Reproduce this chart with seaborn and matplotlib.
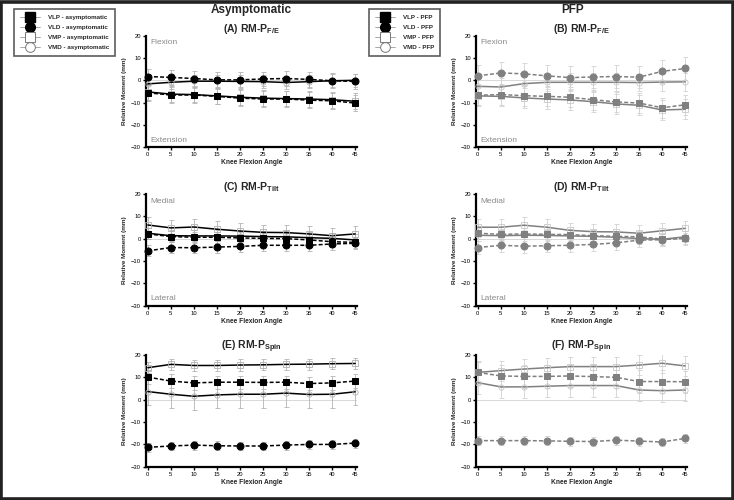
import matplotlib
matplotlib.use("Agg")
import matplotlib.pyplot as plt
import seaborn as sns
import pandas as pd
from matplotlib.lines import Line2D
from matplotlib.patches import Rectangle

# ---------------- data ----------------
angles = [0, 5, 10, 15, 20, 25, 30, 35, 40, 45]
series_names = ["VLP", "VLD", "VMP", "VMD"]
yticks = [-30, -20, -10, 0, 10, 20]

# (A) Asymptomatic RM-P F/E
A_VLP = [-5.6, -6.6, -6.6, -7.2, -8.0, -8.4, -8.4, -8.9, -9.2, -10.2]
A_VLD = [1.7, 1.3, 0.8, 0.2, 0.2, 0.6, 0.8, 0.4, -0.2, -0.5]
A_VMP = [-5.2, -6.2, -6.4, -7.0, -7.6, -8.0, -8.2, -8.4, -8.7, -9.4]
A_VMD = [-1.6, -0.9, -0.4, -0.4, -0.5, -0.6, -1.0, -0.6, -0.2, 0.0]
A_SD = [3.5, 3.3, 3.5, 3.0]

# (B) PFP RM-P F/E
B_VLP = [-6.7, -6.4, -6.9, -7.2, -7.6, -8.7, -9.7, -10.2, -12.3, -11.0]
B_VLD = [2.0, 3.3, 2.9, 2.0, 1.2, 1.5, 1.7, 1.4, 4.0, 5.3]
B_VMP = [-7.0, -7.2, -7.9, -8.4, -8.8, -9.6, -10.6, -11.2, -13.3, -13.0]
B_VMD = [-2.7, -3.0, -1.5, -0.9, -0.9, -0.9, -0.9, -1.0, -0.8, -0.7]
B_SD = [4.5, 5.0, 4.5, 4.0]

# (C) Asymptomatic RM-P Tilt
C_VLP = [2.1, 0.9, 0.6, 0.6, 0.3, 0.1, 0.0, -0.6, -1.4, -1.7]
C_VLD = [-5.5, -4.0, -4.1, -3.8, -3.5, -3.0, -3.0, -3.0, -2.4, -2.1]
C_VMP = [6.1, 4.8, 5.2, 4.2, 3.4, 2.8, 2.7, 2.1, 1.3, 2.1]
C_VMD = [2.4, 1.3, 1.2, 1.2, 1.1, 0.9, 0.8, 0.4, 0.1, -0.6]
C_SD = [2.5, 2.5, 3.5, 2.5]

# (D) PFP RM-P Tilt
D_VLP = [2.4, 1.9, 2.1, 1.9, 1.8, 1.3, 1.0, 0.8, -0.2, 0.1]
D_VLD = [-4.0, -3.0, -3.4, -3.2, -3.0, -2.6, -1.9, -0.7, -0.5, 0.3]
D_VMP = [5.1, 5.1, 6.0, 5.1, 3.7, 3.1, 3.0, 2.4, 3.5, 4.6]
D_VMD = [1.5, 1.3, 1.5, 1.4, 1.2, 1.0, 0.6, 0.0, -0.3, 0.8]
D_SD = [2.5, 3.0, 3.5, 2.5]

# (E) Asymptomatic RM-P Spin
E_VLP = [10.1, 8.3, 7.5, 7.8, 7.8, 7.7, 7.8, 7.2, 7.5, 8.3]
E_VLD = [-21.4, -20.8, -20.4, -20.7, -20.8, -20.8, -20.4, -20.1, -20.1, -19.5]
E_VMP = [14.3, 15.8, 15.3, 15.3, 15.5, 15.6, 15.8, 15.9, 16.1, 16.2]
E_VMD = [3.6, 2.4, 1.5, 2.1, 2.4, 2.4, 2.9, 2.3, 2.4, 3.5]
E_SD = [3.0, 2.0, 2.5, 6.0]

# (F) PFP RM-P Spin
F_VLP = [12.2, 10.6, 10.4, 10.4, 10.6, 10.3, 10.0, 8.1, 8.1, 8.0]
F_VLD = [-18.4, -18.4, -18.4, -18.5, -18.7, -18.8, -18.2, -18.6, -19.0, -17.4]
F_VMP = [12.2, 13.0, 13.7, 14.3, 14.8, 14.8, 14.8, 15.5, 16.3, 15.1]
F_VMD = [7.6, 5.7, 5.7, 6.0, 6.3, 6.3, 6.3, 4.3, 4.0, 4.3]
F_SD = [5.0, 2.0, 4.5, 5.0]

panel_titles = [r"(A) RM-P$_{\mathbf{F/E}}$", r"(B) RM-P$_{\mathbf{F/E}}$",
                r"(C) RM-P$_{\mathbf{Tilt}}$", r"(D) RM-P$_{\mathbf{Tilt}}$",
                r"(E) RM-P$_{\mathbf{Spin}}$", r"(F) RM-P$_{\mathbf{Spin}}$"]
top_notes = ["Flexion", "Flexion", "Medial", "Medial", "", ""]
bottom_notes = ["Extension", "Extension", "Lateral", "Lateral", "", ""]
group_headers = ["Asymptomatic", "PFP"]
legend_labels_asym = ["VLP - asymptomatic", "VLD - asymptomatic", "VMP - asymptomatic", "VMD - asymptomatic"]
legend_labels_pfp = ["VLP - PFP", "VLD - PFP", "VMP - PFP", "VMD - PFP"]

panels = [
    (A_VLP, A_VLD, A_VMP, A_VMD, A_SD),
    (B_VLP, B_VLD, B_VMP, B_VMD, B_SD),
    (C_VLP, C_VLD, C_VMP, C_VMD, C_SD),
    (D_VLP, D_VLD, D_VMP, D_VMD, D_SD),
    (E_VLP, E_VLD, E_VMP, E_VMD, E_SD),
    (F_VLP, F_VLD, F_VMP, F_VMD, F_SD),
]

# ---------------- style ----------------
sns.set_style("ticks")
plt.rcParams["font.family"] = ["Liberation Sans", "DejaVu Sans"]
plt.rcParams["mathtext.fontset"] = "custom"
plt.rcParams["mathtext.rm"] = "Liberation Sans"
plt.rcParams["mathtext.bf"] = "Liberation Sans:bold"
plt.rcParams["mathtext.it"] = "Liberation Sans:italic"

W, H = 734, 500
fig = plt.figure(figsize=(W / 100, H / 100), dpi=100)
fig.patch.set_facecolor("white")

col_left = [146, 476]
ax_w = 211
row_top = [35.7, 194, 355]
ax_h = 111.5

marker_map = {"VLP": "s", "VLD": "o", "VMP": "s", "VMD": "o"}
filled_map = {"VLP": True, "VLD": True, "VMP": False, "VMD": False}
ls_map = {"VLP": (0, (2.6, 1.4)), "VLD": (0, (2.6, 1.4)), "VMP": "-", "VMD": "-"}

for i, (vlp, vld, vmp, vmd, sd) in enumerate(panels):
    r, c = divmod(i, 2)
    left = col_left[c] / W
    bottom = 1 - (row_top[r] + ax_h) / H
    ax = fig.add_axes([left, bottom, ax_w / W, ax_h / H])
    main = "black" if c == 0 else "#808080"
    errc = "#b4b4b4" if c == 0 else "#d2d2d2"
    openc = "#b0b0b0" if c == 0 else "#c8c8c8"

    ax.axhline(0, color="#d8d8d8", lw=0.7, zorder=0)

    df = pd.DataFrame({"angle": angles * 4,
                       "value": vlp + vld + vmp + vmd,
                       "series": sum([[s] * len(angles) for s in series_names], [])})
    vals = [vlp, vld, vmp, vmd]
    for k, s in enumerate(series_names):
        sub = df[df["series"] == s]
        ax.errorbar(angles, vals[k], yerr=sd[k], fmt="none", ecolor=errc,
                    elinewidth=0.6, capsize=1.8, capthick=0.6, zorder=1)
        if filled_map[s]:
            sns.lineplot(data=sub, x="angle", y="value", ax=ax, color=main,
                         linestyle=ls_map[s], lw=1.1, marker=marker_map[s],
                         markersize=5.0, markerfacecolor=main, markeredgecolor=main,
                         zorder=4, clip_on=False)
        else:
            sns.lineplot(data=sub, x="angle", y="value", ax=ax, color=main,
                         linestyle=ls_map[s], lw=1.1, marker=marker_map[s],
                         markersize=3.8, markerfacecolor="none", markeredgecolor=openc,
                         markeredgewidth=0.6, zorder=3, clip_on=False)

    ax.set_xlim(-0.4, 45.4)
    ax.set_ylim(-30, 20)
    ax.set_xticks(angles)
    ax.set_yticks(yticks)
    ax.tick_params(axis="both", direction="out", length=2.5, width=1.0, pad=1.2,
                   labelsize=4.2, colors="black")
    for sp in ["top", "right"]:
        ax.spines[sp].set_visible(False)
    for sp in ["left", "bottom"]:
        ax.spines[sp].set_linewidth(1.6)
        ax.spines[sp].set_color("black")
    ax.set_xlabel("Knee Flexion Angle", fontsize=4.8, fontweight="bold", labelpad=1.5)
    ax.set_ylabel("Relative Moment (mm)", fontsize=4.6, fontweight="bold", labelpad=3)
    ax.set_title(panel_titles[i], fontsize=7.5, fontweight="bold", pad=2.5)
    if top_notes[i]:
        ax.text(0.6, 16.8, top_notes[i], fontsize=6, color="#8a8a8a", va="center", ha="left")
    if bottom_notes[i]:
        ax.text(0.6, -26.8, bottom_notes[i], fontsize=6, color="#8a8a8a", va="center", ha="left")

# group headers
fig.text(251 / W, 1 - 10 / H, group_headers[0], fontsize=8.5, fontweight="bold",
         ha="center", va="center")
fig.text(573 / W, 1 - 10 / H, group_headers[1], fontsize=8.5, fontweight="bold",
         ha="center", va="center")

# legends
def make_handles():
    hs = []
    for s in series_names:
        if filled_map[s]:
            hs.append(Line2D([0], [0], color="#9a9a9a", lw=0.6, marker=marker_map[s],
                             markersize=7, markerfacecolor="black", markeredgecolor="black"))
        else:
            hs.append(Line2D([0], [0], color="#9a9a9a", lw=0.6, marker=marker_map[s],
                             markersize=7, markerfacecolor="white", markeredgecolor="#777777",
                             markeredgewidth=0.7))
    return hs

leg1 = fig.legend(make_handles(), legend_labels_asym, loc="upper left",
                  bbox_to_anchor=(11 / W, 1 - 6 / H), frameon=True,
                  handlelength=3.2, handletextpad=1.3, labelspacing=0.75,
                  borderpad=0.9, fancybox=False, edgecolor="#333333",
                  prop={"weight": "bold", "size": 4.5})
leg1.get_frame().set_linewidth(1.2)
leg2 = fig.legend(make_handles(), legend_labels_pfp, loc="upper left",
                  bbox_to_anchor=(366 / W, 1 - 6 / H), frameon=True,
                  handlelength=3.2, handletextpad=1.3, labelspacing=0.75,
                  borderpad=0.9, fancybox=False, edgecolor="#333333",
                  prop={"weight": "bold", "size": 4.5})
leg2.get_frame().set_linewidth(1.2)

# outer frame
fig.patches.append(Rectangle((0.002, 0.003), 0.996, 0.994, transform=fig.transFigure,
                             fill=False, lw=2.6, edgecolor="#222222"))

fig.savefig("out.png", dpi=100, facecolor="white")
